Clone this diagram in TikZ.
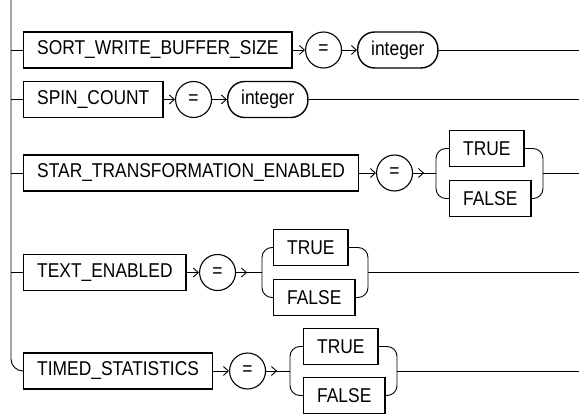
\documentclass[tikz,border=0pt]{standalone}
\usepackage{fontspec}
\setmainfont{Liberation Sans}[FakeStretch=0.87]
\usetikzlibrary{arrows.meta}

\tikzset{
  kw/.style={draw,line width=1.4pt,rectangle,minimum height=36pt,inner xsep=13.5pt,anchor=west},
  eqc/.style={draw,line width=1.1pt,circle,minimum size=36pt,inner sep=0pt,anchor=west},
  var/.style={draw,line width=1.4pt,rectangle,rounded corners=17pt,minimum height=36pt,inner xsep=13.5pt,anchor=west},
  arr/.style={-{Straight Barb[length=5pt,width=9pt]}},
  wire/.style={line width=0.9pt},
}

\begin{document}
\begin{tikzpicture}[x=1pt,y=-1pt,every node/.style={font=\fontsize{20}{22}\selectfont},wire]
  \useasboundingbox (0,0) rectangle (579,414);

  % left rail
  \coordinate (rail) at (11,0);

  % SORT_WRITE_BUFFER_SIZE = integer
  \node[kw] (sort) at (23,50) {SORT\_WRITE\_BUFFER\_SIZE};
  \node[eqc] (eq1) at (305,50) {=};
  \node[var] (int1) at (357,50) {integer};
  \coordinate (end1) at (579,50);
  \draw[arr] (sort.east) -- (eq1.west);
  \draw[arr] (eq1.east) -- (int1.west);
  \draw (int1.east) -- (end1);

  % SPIN_COUNT = integer
  \node[kw] (spin) at (23,99.5) {SPIN\_COUNT};
  \node[eqc] (eq2) at (175,99.5) {=};
  \node[var] (int2) at (227,99.5) {integer};
  \coordinate (end2) at (579,99.5);
  \draw[arr] (spin.east) -- (eq2.west);
  \draw[arr] (eq2.east) -- (int2.west);
  \draw (int2.east) -- (end2);

  % STAR_TRANSFORMATION_ENABLED = TRUE | FALSE
  \node[kw] (star) at (23,173) {STAR\_TRANSFORMATION\_ENABLED};
  \node[eqc] (eq3) at (376,173) {=};
  \coordinate (fork3) at (436,173);
  \node[kw] (t3) at (449,148.5) {TRUE};
  \node[kw] (f3) at (449,198.5) {FALSE};
  \coordinate (join3) at (543,173);
  \coordinate (end3) at (579,173);
  \draw[arr] (star.east) -- (eq3.west);
  \draw (eq3.east) -- (fork3);
  \draw[arr] (eq3.east) -- +(11,0);
  \draw[rounded corners=10pt] (t3.west) -| (fork3) |- (f3.west);
  \draw[rounded corners=10pt] (t3.east) -| (join3) |- (f3.east);
  \draw (join3) -- (end3);

  % TEXT_ENABLED = TRUE | FALSE
  \node[kw] (text) at (23,272.5) {TEXT\_ENABLED};
  \node[eqc] (eq4) at (199,272.5) {=};
  \coordinate (fork4) at (262,272.5);
  \node[kw] (t4) at (273,247.5) {TRUE};
  \node[kw] (f4) at (273,297.5) {FALSE};
  \coordinate (join4) at (368,272.5);
  \coordinate (end4) at (579,272.5);
  \draw[arr] (text.east) -- (eq4.west);
  \draw (eq4.east) -- (fork4);
  \draw[arr] (eq4.east) -- +(11,0);
  \draw[rounded corners=10pt] (t4.west) -| (fork4) |- (f4.west);
  \draw[rounded corners=10pt] (t4.east) -| (join4) |- (f4.east);
  \draw (join4) -- (end4);

  % TIMED_STATISTICS = TRUE | FALSE
  \node[kw] (timed) at (23,371) {TIMED\_STATISTICS};
  \node[eqc] (eq5) at (229,371) {=};
  \coordinate (fork5) at (290,371);
  \node[kw] (t5) at (303,346.5) {TRUE};
  \node[kw] (f5) at (303,395.5) {FALSE};
  \coordinate (join5) at (397,371);
  \coordinate (end5) at (579,371);
  \draw[arr] (timed.east) -- (eq5.west);
  \draw (eq5.east) -- (fork5);
  \draw[arr] (eq5.east) -- +(11,0);
  \draw[rounded corners=10pt] (t5.west) -| (fork5) |- (f5.west);
  \draw[rounded corners=10pt] (t5.east) -| (join5) |- (f5.east);
  \draw (join5) -- (end5);

  % rail and its branches
  \draw[rounded corners=12pt] (rail) |- (timed.west);
  \foreach \n in {sort,spin,star,text}
    \draw (\n.west -| rail) -- (\n.west);
\end{tikzpicture}
\end{document}
